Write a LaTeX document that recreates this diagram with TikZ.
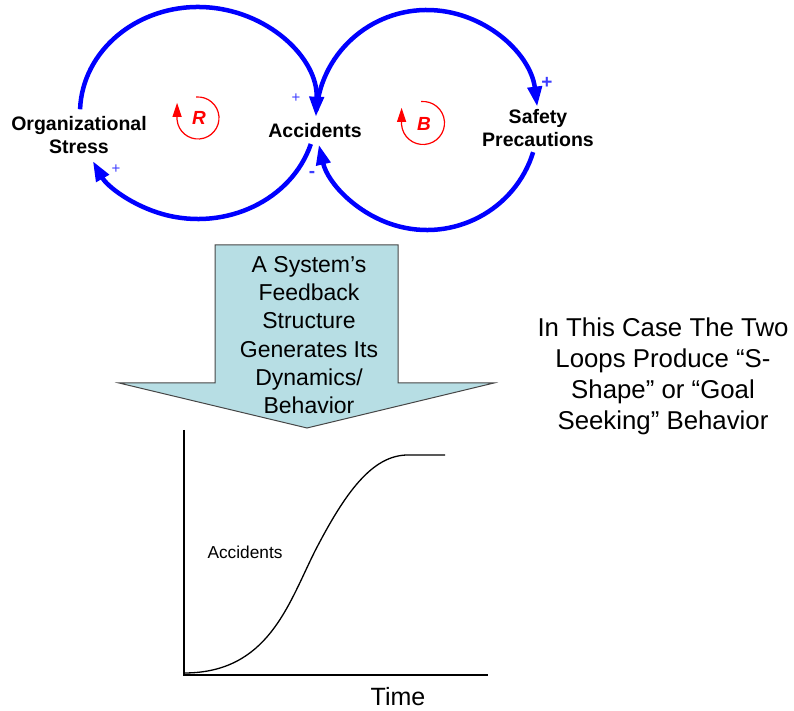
\documentclass[tikz,border=0pt]{standalone}
\usepackage{fontspec}
\setmainfont{Liberation Sans}
\usetikzlibrary{arrows.meta,calc}
\definecolor{loopblue}{RGB}{0,0,255}
\definecolor{signblue}{RGB}{60,60,255}
\definecolor{arrowfill}{RGB}{183,222,228}
\definecolor{arrowedge}{RGB}{70,70,70}
\begin{document}
\begin{tikzpicture}[x=1pt,y=1pt,
  var/.style={font=\fontsize{19.5}{23}\selectfont\bfseries, align=center, inner sep=0pt},
  link/.style={draw=loopblue, line width=4.5pt, -{Triangle[length=20pt,width=14pt]}},
  sign/.style={text=signblue, font=\fontsize{15}{15}\selectfont, inner sep=0pt},
  bsign/.style={text=signblue, font=\fontsize{19}{19}\selectfont\bfseries, inner sep=0pt},
  loopmark/.style={draw=red, line width=1.2pt, -{Triangle[length=14pt,width=9pt]}},
  looplabel/.style={text=red, font=\fontsize{19}{19}\selectfont\bfseries\itshape, inner sep=0pt},
  plain/.style={align=center, inner sep=0pt}
]
\useasboundingbox (0,0) rectangle (794,711);

% variables
\node[var] (stress) at (79,576) {Organizational\\Stress};
\node[var] (acc) at (315,580) {Accidents};
\node[var] (safety) at (538,582.5) {Safety\\Precautions};

% loop geometry
\coordinate (lc) at (198,598);
\coordinate (rc) at (427,591);
\coordinate (l1) at ($(lc)+(178:118pt and 106pt)$);
\coordinate (l2) at ($(lc)+(-17:118pt and 106pt)$);
\coordinate (r1) at ($(rc)+(175:111pt and 110pt)$);
\coordinate (r2) at ($(rc)+(-17:111pt and 110pt)$);

% R loop: stress -> accidents (top), accidents -> stress (bottom)
\draw[link] (l1) arc[start angle=178, end angle=-2, x radius=118pt, y radius=106pt];
\draw[link] (l2) arc[start angle=-17, end angle=-153, x radius=118pt, y radius=106pt];
% B loop: accidents -> safety (top), safety -> accidents (bottom)
\draw[link] (r1) arc[start angle=175, end angle=7, x radius=111pt, y radius=110pt];
\draw[link] (r2) arc[start angle=-17, end angle=-167, x radius=111pt, y radius=110pt];

% polarity signs
\node[sign] (p1) at (296,613) {+};
\node[sign] (p2) at (116,542) {+};
\node[bsign] (p3) at (547,628) {+};
\node[bsign] (m1) at (312,537) {-};

% loop markers
\coordinate (rmk) at (198,593);
\draw[loopmark] ($(rmk)+(95:21pt)$) arc[start angle=95, end angle=-175, radius=21pt] -- ++(0,17pt);
\node[looplabel] (rl) at (199,593) {R};
\coordinate (bmk) at (423,588);
\draw[loopmark] ($(bmk)+(95:21.5pt)$) arc[start angle=95, end angle=-175, radius=21.5pt] -- ++(0,17pt);
\node[looplabel] (bl) at (424,587) {B};

% big arrow
\draw[draw=arrowedge, fill=arrowfill, line width=1pt] (215,466) -- (398,466) -- (398,328) -- (494,328) -- (307,283) -- (119,328) -- (215,328) -- cycle;
\node[plain, font=\fontsize{23}{28.3}\selectfont] (msg) at (309,376) {A System’s\\Feedback\\Structure\\Generates Its\\Dynamics/\\Behavior};

% note
\node[plain, font=\fontsize{25.8}{31}\selectfont] (note) at (663,335) {In This Case The Two\\Loops Produce “S-\\Shape” or “Goal\\Seeking” Behavior};

% graph
\coordinate (o) at (184,36);
\coordinate (ytop) at (184,281);
\coordinate (xend) at (488,36);
\coordinate (c0) at (184,38);
\coordinate (c1) at (315,160);
\coordinate (c2) at (408,256);
\coordinate (c3) at (445,256);
\draw[line width=1.3pt] (c0) .. controls (268,38) and (288,106) .. (c1) .. controls (345,218) and (372,256) .. (c2) -- (c3);
\draw[line width=2pt] (ytop) -- (o) -- (xend);
\node[plain, font=\fontsize{17.3}{17.3}\selectfont] (ylab) at (245,159) {Accidents};
\node[plain, font=\fontsize{25}{25}\selectfont] (xlab) at (398,14) {Time};
\end{tikzpicture}
\end{document}
